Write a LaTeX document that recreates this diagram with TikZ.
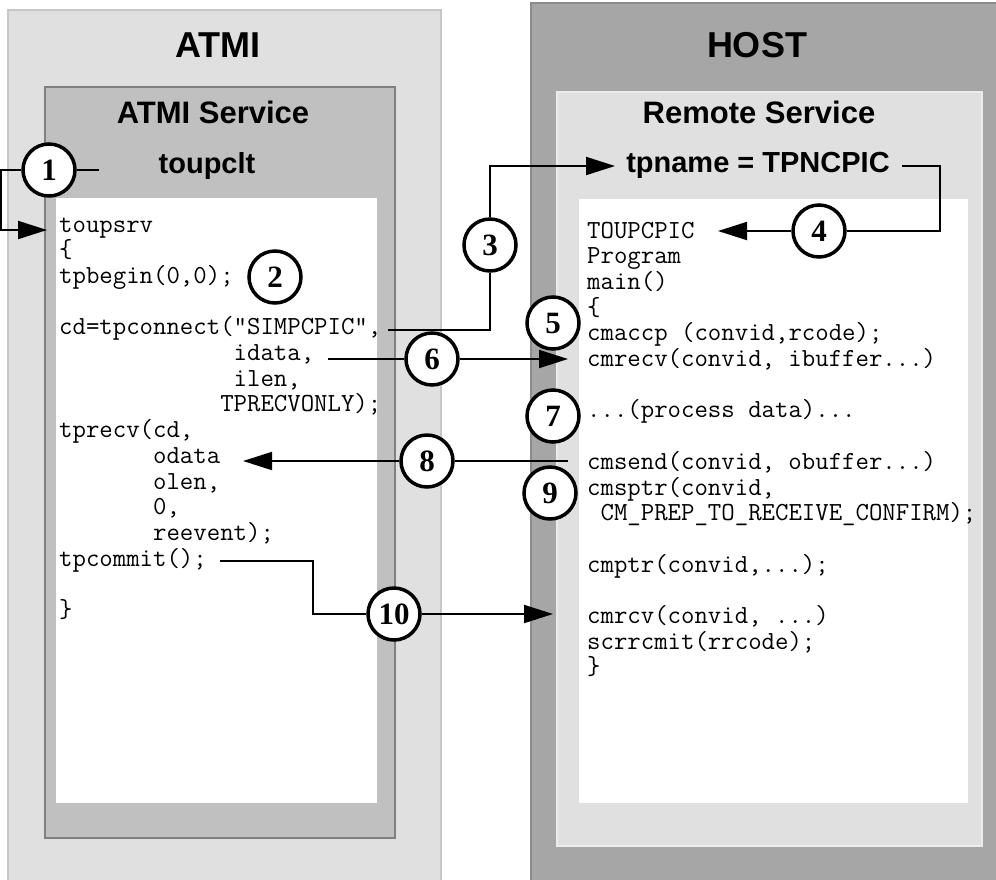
\documentclass[tikz,border=0pt]{standalone}
\usepackage{fontspec}
\setmainfont{Liberation Serif}
\setsansfont{Liberation Sans}
\usetikzlibrary{arrows.meta}

\definecolor{paleframe}{HTML}{E0E0E0}
\definecolor{midframe}{HTML}{C0C0C0}
\definecolor{darkframe}{HTML}{A6A6A6}

% blank columns in the code listings
\newcommand{\codeind}[1]{\hspace*{#1\fontcharwd\font`0\relax}}

\tikzset{
    stepnum/.style={circle, draw, line width=3.5pt, fill=white,
        minimum size=52pt, inner sep=0pt,
        font=\bfseries\fontsize{31}{31}\selectfont},
    code/.style={anchor=base west, inner sep=0pt,
        font=\ttfamily\fontsize{26.06}{25}\selectfont},
    boxtitle/.style={anchor=base, inner sep=0pt,
        font=\sffamily\bfseries\fontsize{36}{36}\selectfont},
    svcname/.style={anchor=base, inner sep=0pt,
        font=\sffamily\bfseries\fontsize{31}{31}\selectfont},
    progname/.style={anchor=base, inner sep=0pt,
        font=\sffamily\bfseries\fontsize{29}{29}\selectfont},
    conn/.style={line width=2pt},
    flow/.style={conn, -{Triangle[length=29pt, width=18pt]}}
}

\begin{document}
\begin{tikzpicture}[x=1pt, y=-1pt]
    \useasboundingbox (0,0) rectangle (996,879);

    % ATMI side
    \draw[fill=paleframe, draw=gray!45, line width=1.5pt] (8,10) rectangle (441,885);
    \draw[fill=midframe, draw=gray, line width=1.5pt] (45,87) rectangle (395,838);
    \fill[white] (56,198) rectangle (377,803);

    % HOST side
    \draw[fill=darkframe, draw=gray!90, line width=1.5pt] (531,3) rectangle (1000,885);
    \draw[fill=paleframe, draw=gray!15, line width=1.5pt] (557,92) rectangle (982,846);
    \fill[white] (579,199) rectangle (968,803);

    \node[boxtitle] (atmi) at (218,57) {ATMI};
    \node[svcname] (atmisvc) at (213,123) {ATMI Service};
    \node[progname] (toupclt) at (207,173) {toupclt};
    \node[boxtitle] (host) at (757,57) {HOST};
    \node[svcname] (remotesvc) at (759,123) {Remote Service};
    \node[progname] (tpname) at (758,172) {tpname = TPNCPIC};

    \foreach \i/\txt in {0/toupsrv, 1/{\{}, 2/{tpbegin(0,0);},
            4/{cd=tpconnect("SIMPCPIC",}, 5/{\codeind{13}idata,},
            6/{\codeind{13}ilen,}, 7/{\codeind{12}TPRECVONLY);},
            8/{tprecv(cd,}, 9/{\codeind{7}odata}, 10/{\codeind{7}olen,},
            11/{\codeind{7}0,}, 12/{\codeind{7}reevent);},
            13/{tpcommit();}, 15/{\}}} {
        \node[code] (l\i) at (59, {232+25.7*\i}) {\txt};
    }

    \foreach \i/\txt in {0/TOUPCPIC, 1/Program, 2/main(), 3/{\{},
            4/{cmaccp (convid,rcode);}, 5/{cmrecv(convid, ibuffer...)},
            7/{...(process data)...}, 9/{cmsend(convid, obuffer...)},
            10/{cmsptr(convid,}, 11/{\codeind{1}CM\_PREP\_TO\_RECEIVE\_CONFIRM);},
            13/{cmptr(convid,...);}, 15/{cmrcv(convid, ...)},
            16/{scrrcmit(rrcode);}, 17/{\}}} {
        \node[code] (r\i) at (587, {238+25.7*\i}) {\txt};
    }

    % numbered steps
    \node[stepnum] (n1) at (49,170) {1};
    \node[stepnum] (n2) at (275,277) {2};
    \node[stepnum] (n3) at (490,245) {3};
    \node[stepnum] (n4) at (819,231) {4};
    \node[stepnum] (n5) at (553,323) {5};
    \node[stepnum] (n6) at (432,359) {6};
    \node[stepnum] (n7) at (553,416) {7};
    \node[stepnum] (n8) at (427,461) {8};
    \node[stepnum] (n9) at (550,493) {9};
    \node[stepnum] (n10) at (394,614) {10};

    \coordinate (a1) at (99,170);
    \coordinate (k1) at (1,230);
    \coordinate (t1) at (47,230);
    \coordinate (a3) at (388,330);
    \coordinate (t3) at (615,166);
    \coordinate (a4) at (902,166);
    \coordinate (k4) at (940,231);
    \coordinate (t4) at (718,231);
    \coordinate (a6) at (328,359);
    \coordinate (t6) at (568,359);
    \coordinate (a8) at (568,461);
    \coordinate (t8) at (243,461);
    \coordinate (a10) at (220,561);
    \coordinate (k10) at (313,614);
    \coordinate (t10) at (553,614);

    \draw[conn] (a1) -- (n1);
    \draw[flow] (n1) -| (k1) -- (t1);
    \draw[conn] (a3) -| (n3);
    \draw[flow] (n3) |- (t3);
    \draw[conn] (a4) -| (k4) -- (n4);
    \draw[flow] (n4) -- (t4);
    \draw[conn] (a6) -- (n6);
    \draw[flow] (n6) -- (t6);
    \draw[conn] (a8) -- (n8);
    \draw[flow] (n8) -- (t8);
    \draw[conn] (a10) -| (k10) -- (n10);
    \draw[flow] (n10) -- (t10);
\end{tikzpicture}
\end{document}
